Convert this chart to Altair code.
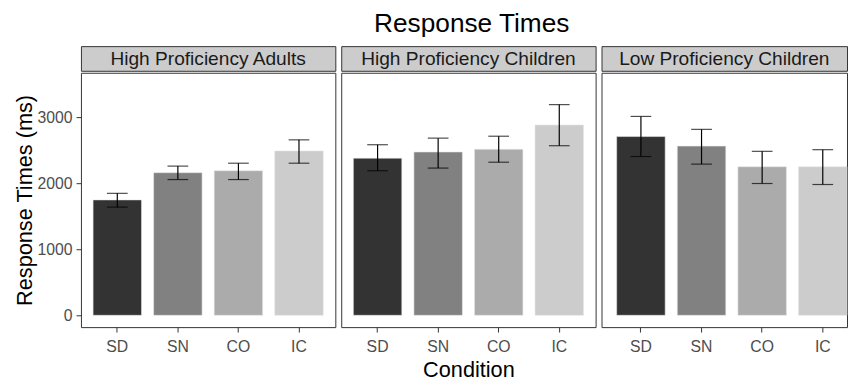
import altair as alt
import pandas as pd

groups = ["High Proficiency Adults", "High Proficiency Children", "Low Proficiency Children"]
conditions = ["SD", "SN", "CO", "IC"]
colors = ["#333333", "#818181", "#ababab", "#cccccc"]

means_hpa = [1750, 2162, 2192, 2491]
lo_hpa = [1640, 2058, 2058, 2306]
hi_hpa = [1849, 2262, 2306, 2660]

means_hpc = [2382, 2476, 2516, 2885]
lo_hpc = [2192, 2232, 2321, 2571]
hi_hpc = [2586, 2686, 2715, 3194]

means_lpc = [2710, 2565, 2252, 2252]
lo_lpc = [2407, 2292, 1998, 1983]
hi_lpc = [3015, 2819, 2486, 2511]

y_ticks = [0, 1000, 2000, 3000]

rows = []
for g, m, lo, hi in zip(groups, [means_hpa, means_hpc, means_lpc],
                        [lo_hpa, lo_hpc, lo_lpc], [hi_hpa, hi_hpc, hi_lpc]):
    for c, mv, lv, hv in zip(conditions, m, lo, hi):
        rows.append({"group": g, "condition": c, "mean": mv, "lo": lv, "hi": hv})
df = pd.DataFrame(rows)

FONT = "Liberation Sans"
WIDTHS = [258, 258, 249]
OUTER = [0.2, 0.2, 0.125]
ALIGN = [0.5, 0.5, 1.0]
H_STRIP = 25
H_PLOT = 258

yscale = alt.Scale(domain=[-179, 3677], nice=False, zero=False)
colscale = alt.Scale(domain=conditions, range=colors)


def panel(i):
    W = WIDTHS[i]
    sub = df[df["group"] == groups[i]]
    base = alt.Chart(sub)
    xaxis = alt.Axis(labelAngle=0, labelPadding=7, titlePadding=5)
    xscale = alt.Scale(paddingInner=0.2, paddingOuter=OUTER[i], align=ALIGN[i])
    if i == 1:
        x = alt.X("condition:N", sort=conditions, scale=xscale, axis=xaxis, title="Condition")
    else:
        x = alt.X("condition:N", sort=conditions, scale=xscale, axis=xaxis, title=None)

    def ych(field):
        if i == 0:
            return alt.Y(field, scale=yscale,
                         axis=alt.Axis(values=y_ticks, format="d", labelPadding=4, titlePadding=1),
                         title="Response Times (ms)")
        return alt.Y(field, scale=yscale, axis=None)

    bars = base.mark_bar(stroke="#e6e6e6", strokeWidth=0.6).encode(
        x=x, y=ych("mean:Q"),
        color=alt.Color("condition:N", scale=colscale, legend=None),
    )
    rules = base.mark_rule(color="black", strokeWidth=1.2).encode(
        x=x, y=ych("lo:Q"), y2="hi:Q")
    cap_lo = base.mark_tick(color="black", size=21, thickness=1.2).encode(
        x=x, y=ych("lo:Q"))
    cap_hi = base.mark_tick(color="black", size=21, thickness=1.2).encode(
        x=x, y=ych("hi:Q"))
    plot = alt.layer(bars, rules, cap_lo, cap_hi).properties(width=W, height=H_PLOT)

    strip = alt.Chart(pd.DataFrame({"group": [groups[i]]})).mark_text(
        font=FONT, fontSize=19.4, color="#1a1a1a", align="center", baseline="middle"
    ).encode(
        text="group:N", x=alt.value(W / 2), y=alt.value(H_STRIP / 2 + 1)
    ).properties(width=W, height=H_STRIP,
                 view=alt.ViewBackground(fill="#cccccc", stroke="#333333"))

    return alt.vconcat(strip, plot, spacing=0)


chart = alt.hconcat(panel(0), panel(1), panel(2), spacing=4).properties(
    title=alt.TitleParams("Response Times", anchor="middle", fontSize=26.6,
                          font=FONT, fontWeight="normal", color="black", offset=8,
                          dx=42),
    padding={"left": 4, "top": 0, "right": 0, "bottom": 0},
    background="white",
).configure_view(
    stroke="#333333", strokeWidth=1
).configure_axis(
    labelFont=FONT, labelFontSize=16, labelColor="#4d4d4d",
    titleFont=FONT, titleFontSize=22, titleFontWeight="normal", titleColor="black",
    tickColor="#333333", tickSize=5, domain=False, grid=False,
)

chart.save("out.html", embed_options={"renderer": "svg", "actions": False})
